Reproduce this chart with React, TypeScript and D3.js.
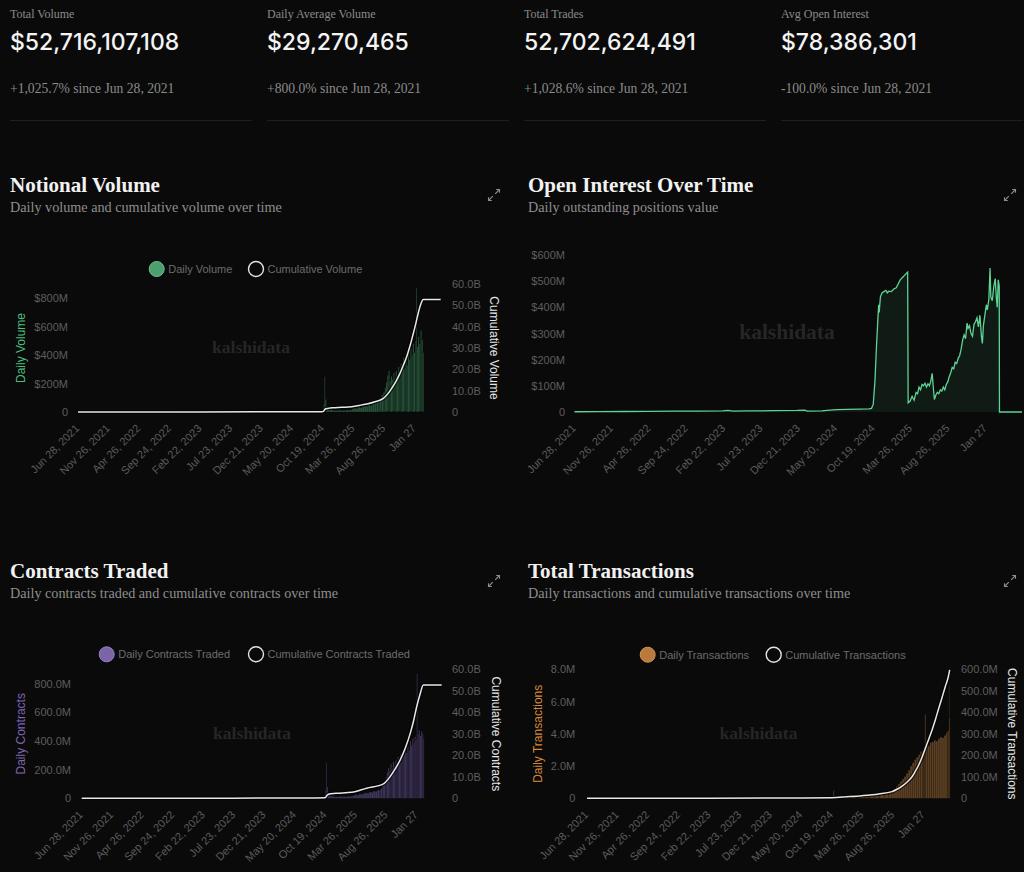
import * as d3 from 'd3';

const W = 1024;
const H = 872;
const BG = '#0a0a0a';
const SANS = '"Liberation Sans", Arial, sans-serif';
const SERIF = '"Liberation Serif", "Times New Roman", serif';
const NUM = 'Inter, "Liberation Sans", sans-serif';

type Pt = [number, number];

// summary cards
const statLabels = ['Total Volume', 'Daily Average Volume', 'Total Trades', 'Avg Open Interest'];
const statValues = ['$52,716,107,108', '$29,270,465', '52,702,624,491', '$78,386,301'];
const statChanges = [
  '+1,025.7% since Jun 28, 2021',
  '+800.0% since Jun 28, 2021',
  '+1,028.6% since Jun 28, 2021',
  '-100.0% since Jun 28, 2021',
];

// x axis is "days since first record", one label every 151 days
const tickDays = [0, 151, 302, 453, 604, 755, 906, 1057, 1208, 1359, 1510, 1661];
const tickLabels = [
  'Jun 28, 2021', 'Nov 26, 2021', 'Apr 26, 2022', 'Sep 24, 2022', 'Feb 22, 2023', 'Jul 23, 2023',
  'Dec 21, 2023', 'May 20, 2024', 'Oct 19, 2024', 'Mar 26, 2025', 'Aug 26, 2025', 'Jan 27',
];

// notional volume: daily ($M) and cumulative ($B)
const dailyVolume: Pt[] = [
  [0, 0.3], [120, 0.8], [240, 1.2], [360, 1.5], [480, 2], [600, 2.5], [720, 3], [840, 3.5], [960, 4],
  [1080, 5], [1170, 8], [1205, 12], [1212, 60], [1216, 250], [1220, 90], [1226, 30], [1240, 14],
  [1260, 10], [1280, 12], [1300, 11], [1320, 13], [1340, 15], [1352, 22], [1362, 28], [1372, 25],
  [1382, 34], [1392, 30], [1402, 38], [1412, 42], [1422, 40], [1432, 50], [1442, 46], [1452, 58],
  [1462, 62], [1472, 70], [1482, 85], [1490, 100], [1498, 120], [1506, 140], [1514, 170], [1520, 210],
  [1526, 260], [1532, 290], [1538, 220], [1544, 250], [1550, 230], [1556, 275], [1562, 240], [1568, 290],
  [1574, 260], [1580, 320], [1586, 280], [1592, 340], [1598, 300], [1604, 385], [1610, 310], [1616, 360],
  [1622, 330], [1628, 410], [1634, 370], [1640, 450], [1646, 400], [1652, 480], [1658, 420], [1664, 500],
  [1668, 870], [1672, 460], [1678, 530], [1684, 480], [1690, 575], [1696, 510], [1702, 420],
];
const cumulativeVolume: Pt[] = [
  [0, 0], [300, 0.02], [600, 0.05], [900, 0.09], [1100, 0.12], [1205, 0.15], [1211, 0.3], [1220, 1.4],
  [1234, 1.7], [1258, 2.0], [1300, 2.2], [1351, 2.5], [1390, 3.1], [1425, 3.75], [1470, 4.9], [1507, 6.4],
  [1530, 8.6], [1548, 11.1], [1570, 14.5], [1589, 18.1], [1606, 22.0], [1622, 25.9], [1640, 31.5],
  [1655, 36.9], [1668, 41.8], [1679, 46.3], [1692, 50.6], [1704, 52.7], [1790, 52.7],
];

// open interest ($M)
const openInterest: Pt[] = [
  [0, 1], [100, 1.5], [200, 2], [300, 2.5], [400, 3], [500, 3.5], [600, 4], [620, 6], [640, 3], [700, 4],
  [800, 5], [900, 6], [930, 7], [940, 3], [1000, 4], [1020, 6], [1060, 9], [1100, 10], [1150, 11],
  [1190, 12], [1200, 14], [1207, 30], [1214, 120], [1220, 250], [1226, 360], [1229, 410], [1231, 380],
  [1236, 440], [1242, 455], [1250, 460], [1258, 465], [1264, 455], [1270, 462], [1280, 460], [1290, 470],
  [1300, 475], [1308, 490], [1316, 505], [1326, 515], [1336, 525], [1346, 535], [1348, 35], [1356, 42],
  [1364, 60], [1372, 45], [1380, 75], [1386, 70], [1392, 95], [1398, 85], [1404, 105], [1410, 100],
  [1416, 110], [1422, 95], [1428, 108], [1434, 100], [1440, 120], [1445, 148], [1450, 90], [1454, 48],
  [1460, 65], [1466, 75], [1472, 70], [1478, 85], [1484, 80], [1490, 95], [1496, 85], [1502, 105],
  [1508, 115], [1514, 135], [1520, 150], [1526, 170], [1532, 165], [1538, 190], [1544, 185], [1550, 205],
  [1556, 215], [1562, 240], [1568, 275], [1574, 295], [1580, 280], [1586, 340], [1590, 320], [1596, 330],
  [1602, 300], [1608, 290], [1614, 335], [1620, 345], [1626, 360], [1632, 325], [1638, 370], [1644, 290],
  [1648, 262], [1652, 330], [1658, 370], [1664, 410], [1668, 390], [1674, 430], [1679, 550], [1682, 440],
  [1688, 425], [1694, 480], [1700, 510], [1704, 440], [1708, 400], [1712, 505], [1716, 480], [1717, 0],
  [1808, 0],
];

// contracts traded: daily (M) and cumulative (B)
const dailyContracts: Pt[] = [
  [0, 0.3], [120, 0.8], [240, 1.2], [360, 1.5], [480, 2], [600, 2.5], [720, 3], [840, 3.5], [960, 4],
  [1080, 5], [1170, 8], [1200, 12], [1207, 60], [1211, 248], [1215, 80], [1221, 30], [1235, 14],
  [1255, 10], [1275, 12], [1295, 11], [1315, 13], [1335, 15], [1345, 20], [1355, 26], [1365, 22],
  [1375, 30], [1385, 28], [1395, 34], [1405, 38], [1415, 36], [1425, 44], [1435, 42], [1445, 50],
  [1455, 48], [1465, 56], [1475, 60], [1483, 70], [1491, 95], [1499, 120], [1507, 150], [1513, 180],
  [1519, 215], [1525, 197], [1531, 240], [1537, 210], [1543, 255], [1549, 230], [1555, 267], [1561, 240],
  [1567, 290], [1573, 260], [1579, 313], [1585, 280], [1591, 330], [1597, 300], [1603, 350], [1609, 320],
  [1615, 360], [1621, 335], [1627, 400], [1633, 370], [1639, 420], [1645, 390], [1651, 430], [1657, 410],
  [1661, 870], [1665, 450], [1671, 475], [1677, 440], [1683, 470], [1689, 452], [1694, 420],
];
const cumulativeContracts: Pt[] = [
  [0, 0], [300, 0.02], [600, 0.05], [900, 0.09], [1100, 0.12], [1207, 0.3], [1215, 1.2], [1223, 1.9],
  [1260, 2.3], [1339, 2.8], [1413, 4.7], [1496, 6.7], [1529, 10.1], [1555, 13.8], [1579, 17.8],
  [1605, 23.5], [1629, 30.2], [1646, 36.2], [1661, 42.6], [1678, 48.5], [1694, 52.7], [1785, 52.7],
];

// transactions: daily (M) and cumulative (M)
const dailyTransactions: Pt[] = [
  [0, 0.002], [150, 0.003], [300, 0.005], [450, 0.008], [600, 0.01], [750, 0.012], [900, 0.015],
  [1050, 0.02], [1150, 0.03], [1210, 0.05], [1215, 0.5], [1220, 0.08], [1260, 0.05], [1300, 0.06],
  [1347, 0.1], [1370, 0.12], [1395, 0.15], [1420, 0.18], [1445, 0.22], [1470, 0.28], [1490, 0.35],
  [1505, 0.45], [1515, 0.6], [1525, 0.75], [1535, 0.9], [1545, 1.05], [1555, 1.2], [1565, 1.35],
  [1575, 1.55], [1585, 1.75], [1595, 2.0], [1605, 2.2], [1615, 2.4], [1625, 2.55], [1635, 2.7],
  [1645, 2.9], [1655, 3.0], [1662, 3.2], [1667, 5.2], [1672, 3.3], [1682, 3.25], [1692, 3.45],
  [1702, 3.5], [1712, 3.6], [1722, 3.55], [1732, 3.7], [1742, 3.8], [1752, 3.75], [1762, 3.9],
  [1772, 4.1], [1780, 4.2], [1786, 7.0], [1788, 5.0],
];
const cumulativeTransactions: Pt[] = [
  [0, 0], [300, 0.3], [600, 0.7], [900, 1.2], [1209, 3], [1280, 7], [1357, 12], [1439, 20], [1505, 31],
  [1530, 42], [1555, 57], [1580, 76], [1604, 100], [1620, 125], [1637, 155], [1654, 192], [1670, 233],
  [1686, 274], [1703, 318], [1720, 368], [1736, 419], [1752, 468], [1768, 519], [1781, 557], [1790, 597],
];

const ExpandIcon = ({ cx, cy }: { cx: number; cy: number }) => (
  <path
    transform={`translate(${cx},${cy})`}
    d="M1.2 -1.2 L5.5 -5.5 M2.2 -5.5 H5.5 V-2.2 M-1.2 1.2 L-5.5 5.5 M-5.5 2.2 V5.5 H-2.2"
    fill="none"
    stroke="#8c8c8c"
    strokeWidth={1.1}
  />
);

const ChartHeader = ({ x, y, title, sub, iconX }: { x: number; y: number; title: string; sub: string; iconX: number }) => (
  <g>
    <text x={x} y={y} fontFamily={SERIF} fontWeight="bold" fontSize={21} fill="#f2f2f2">{title}</text>
    <text x={x} y={y + 20} fontFamily={SERIF} fontSize={14.2} fill="#8e8e8e">{sub}</text>
    <ExpandIcon cx={iconX} cy={y + 3} />
  </g>
);

const XLabels = ({ x, bottom }: { x: d3.ScaleLinear<number, number>; bottom: number }) => (
  <g fontFamily={SANS} fontSize={11} fill="#5c5c5c">
    {tickDays.map((d, i) => (
      <text key={d} textAnchor="end" transform={`translate(${x(d) + 2},${bottom + 17}) rotate(-45)`}>
        {tickLabels[i]}
      </text>
    ))}
  </g>
);

interface ComboProps {
  daily: Pt[];
  cumulative: Pt[];
  x0: number;
  x1: number;
  top: number;
  bottom: number;
  dayMax: number;
  leftMax: number;
  leftTicks: number[];
  leftFormat: (v: number) => string;
  rightMax: number;
  rightTicks: number[];
  rightFormat: (v: number) => string;
  leftLabelX: number;
  rightLabelX: number;
  leftTitle: string;
  rightTitle: string;
  leftTitleX: number;
  rightTitleX: number;
  barColor: string;
  dotColor: string;
  dotStroke: string;
  titleColor: string;
  dailyName: string;
  cumulativeName: string;
  legendY: number;
  legendDailyX: number;
  legendCumX: number;
  markX: number;
  markY: number;
  markSize: number;
}

function ComboChart(p: ComboProps) {
  const x = d3.scaleLinear().domain([0, p.dayMax]).range([p.x0, p.x1]);
  const yL = d3.scaleLinear().domain([0, p.leftMax]).range([p.bottom, p.top]);
  const yR = d3.scaleLinear().domain([0, p.rightMax]).range([p.bottom, p.top]);
  const line = d3.line<Pt>().x(d => x(d[0])).y(d => yR(d[1])).curve(d3.curveMonotoneX);
  const cumPath = line(p.cumulative) ?? '';
  const mid = (p.top + p.bottom) / 2;

  return (
    <g>
      <text x={p.markX} y={p.markY} textAnchor="middle" fontFamily={SERIF} fontWeight="bold" fontSize={p.markSize} fill="#262626">
        kalshidata
      </text>

      {/* legend */}
      <g fontFamily={SANS} fontSize={11} fill="#6c6c6c">
        <circle cx={p.legendDailyX} cy={p.legendY} r={7.5} fill={p.dotColor} stroke={p.dotStroke} strokeWidth={1} />
        <text x={p.legendDailyX + 11.5} y={p.legendY + 4}>{p.dailyName}</text>
        <circle cx={p.legendCumX} cy={p.legendY} r={7.5} fill={BG} stroke="#e4e4e4" strokeWidth={1.4} />
        <text x={p.legendCumX + 11.5} y={p.legendY + 4}>{p.cumulativeName}</text>
      </g>

      {/* daily bars */}
      <g fill={p.barColor} stroke="#000" strokeWidth={0.2} strokeOpacity={0.6}>
        {p.daily.map((d, i) => {
          const next = i < p.daily.length - 1 ? p.daily[i + 1][0] : d[0] + 4;
          const bx = x(d[0]);
          const bw = Math.max(0.5, x(next) - bx);
          return <rect key={i} x={bx} y={yL(d[1])} width={bw} height={p.bottom - yL(d[1])} />;
        })}
      </g>

      {/* cumulative line */}
      <path d={cumPath} fill="none" stroke="#000" strokeOpacity={0.6} strokeWidth={4} />
      <path d={cumPath} fill="none" stroke="#e8e8e8" strokeWidth={1.5} />

      {/* axes */}
      <g fontFamily={SANS} fontSize={11} fill="#5e5e5e">
        {p.leftTicks.map(v => (
          <text key={v} x={p.leftLabelX} y={yL(v) + 4} textAnchor="end">{p.leftFormat(v)}</text>
        ))}
        {p.rightTicks.map(v => (
          <text key={v} x={p.rightLabelX} y={yR(v) + 4} textAnchor="start">{p.rightFormat(v)}</text>
        ))}
      </g>
      <text
        transform={`translate(${p.leftTitleX},${mid}) rotate(-90)`}
        textAnchor="middle"
        fontFamily={SANS}
        fontSize={12}
        fill={p.titleColor}
      >
        {p.leftTitle}
      </text>
      <text
        transform={`translate(${p.rightTitleX},${mid}) rotate(90)`}
        textAnchor="middle"
        fontFamily={SANS}
        fontSize={12}
        fill="#e6e6e6"
      >
        {p.rightTitle}
      </text>
      <XLabels x={x} bottom={p.bottom} />
    </g>
  );
}

function OpenInterestChart() {
  const x0 = 574.5;
  const x1 = 1022;
  const top = 255;
  const bottom = 412;
  const x = d3.scaleLinear().domain([0, 1808]).range([x0, x1]);
  const y = d3.scaleLinear().domain([0, 600]).range([bottom, top]);
  const area = d3.area<Pt>().x(d => x(d[0])).y0(bottom).y1(d => y(d[1]));
  const line = d3.line<Pt>().x(d => x(d[0])).y(d => y(d[1]));
  const yTicks = [0, 100, 200, 300, 400, 500, 600];

  return (
    <g>
      <text x={787} y={339} textAnchor="middle" fontFamily={SERIF} fontWeight="bold" fontSize={21.5} fill="#262626">
        kalshidata
      </text>
      <path d={area(openInterest) ?? ''} fill="rgb(80,200,130)" fillOpacity={0.09} />
      <path d={line(openInterest) ?? ''} fill="none" stroke="#5fd394" strokeWidth={1.3} />
      <g fontFamily={SANS} fontSize={11} fill="#5e5e5e">
        {yTicks.map(v => (
          <text key={v} x={565} y={y(v) + 4} textAnchor="end">{v === 0 ? '0' : `$${v}M`}</text>
        ))}
      </g>
      <XLabels x={x} bottom={bottom} />
    </g>
  );
}

export default function App() {
  const cardX = [10, 267, 524, 781];
  return (
    <div style={{ position: 'absolute', left: 0, top: 0 }}>
      <svg width={W} height={H} style={{ display: 'block' }}>
        <rect width={W} height={H} fill={BG} />

        {cardX.map((cx, i) => (
          <g key={i}>
            <text x={cx} y={18} fontFamily={SERIF} fontSize={12} fill="#8a8a8a">{statLabels[i]}</text>
            <text x={cx} y={50} fontFamily={NUM} fontWeight={500} fontSize={23} fill="#f4f4f4">{statValues[i]}</text>
            <text x={cx} y={93} fontFamily={SERIF} fontSize={13.6} fill="#8a8a8a">{statChanges[i]}</text>
            <line x1={cx} x2={cx + 242} y1={120.5} y2={120.5} stroke="#1f1f1f" />
          </g>
        ))}

        <ChartHeader x={10} y={192} title="Notional Volume" sub="Daily volume and cumulative volume over time" iconX={494} />
        <ChartHeader x={528} y={192} title="Open Interest Over Time" sub="Daily outstanding positions value" iconX={1010} />
        <ChartHeader x={10} y={578} title="Contracts Traded" sub="Daily contracts traded and cumulative contracts over time" iconX={494} />
        <ChartHeader x={528} y={578} title="Total Transactions" sub="Daily transactions and cumulative transactions over time" iconX={1010} />

        <ComboChart
          daily={dailyVolume}
          cumulative={cumulativeVolume}
          x0={78}
          x1={440.7}
          top={284}
          bottom={412}
          dayMax={1790}
          leftMax={900}
          leftTicks={[0, 200, 400, 600, 800]}
          leftFormat={v => (v === 0 ? '0' : `$${v}M`)}
          rightMax={60}
          rightTicks={[0, 10, 20, 30, 40, 50, 60]}
          rightFormat={v => (v === 0 ? '0' : `${v.toFixed(1)}B`)}
          leftLabelX={68}
          rightLabelX={452}
          leftTitle="Daily Volume"
          rightTitle="Cumulative Volume"
          leftTitleX={25}
          rightTitleX={490}
          barColor="#275239"
          dotColor="#4e9f6f"
          dotStroke="#6cc08c"
          titleColor="#4cbf7f"
          dailyName="Daily Volume"
          cumulativeName="Cumulative Volume"
          legendY={269}
          legendDailyX={156.7}
          legendCumX={256}
          markX={251}
          markY={353}
          markSize={17.5}
        />

        <OpenInterestChart />

        <ComboChart
          daily={dailyContracts}
          cumulative={cumulativeContracts}
          x0={81.7}
          x1={442.7}
          top={669.3}
          bottom={798.3}
          dayMax={1790}
          leftMax={900}
          leftTicks={[0, 200, 400, 600, 800]}
          leftFormat={v => (v === 0 ? '0' : `${v.toFixed(1)}M`)}
          rightMax={60}
          rightTicks={[0, 10, 20, 30, 40, 50, 60]}
          rightFormat={v => (v === 0 ? '0' : `${v.toFixed(1)}B`)}
          leftLabelX={71}
          rightLabelX={452}
          leftTitle="Daily Contracts"
          rightTitle="Cumulative Contracts"
          leftTitleX={25}
          rightTitleX={491.5}
          barColor="#3f3559"
          dotColor="#7c64a8"
          dotStroke="#9a80c8"
          titleColor="#7f66b5"
          dailyName="Daily Contracts Traded"
          cumulativeName="Cumulative Contracts Traded"
          legendY={654.3}
          legendDailyX={106.7}
          legendCumX={256}
          markX={252}
          markY={738.5}
          markSize={17.5}
        />

        <ComboChart
          daily={dailyTransactions}
          cumulative={cumulativeTransactions}
          x0={587}
          x1={949.7}
          top={669.3}
          bottom={798.3}
          dayMax={1790}
          leftMax={8}
          leftTicks={[0, 2, 4, 6, 8]}
          leftFormat={v => (v === 0 ? '0' : `${v.toFixed(1)}M`)}
          rightMax={600}
          rightTicks={[0, 100, 200, 300, 400, 500, 600]}
          rightFormat={v => (v === 0 ? '0' : `${v.toFixed(1)}M`)}
          leftLabelX={575.3}
          rightLabelX={961}
          leftTitle="Daily Transactions"
          rightTitle="Cumulative Transactions"
          leftTitleX={542}
          rightTitleX={1008}
          barColor="#5a3f23"
          dotColor="#b87a3e"
          dotStroke="#d59450"
          titleColor="#d4883a"
          dailyName="Daily Transactions"
          cumulativeName="Cumulative Transactions"
          legendY={654.7}
          legendDailyX={647.7}
          legendCumX={773.7}
          markX={758.5}
          markY={738.5}
          markSize={17.5}
        />
      </svg>
    </div>
  );
}
